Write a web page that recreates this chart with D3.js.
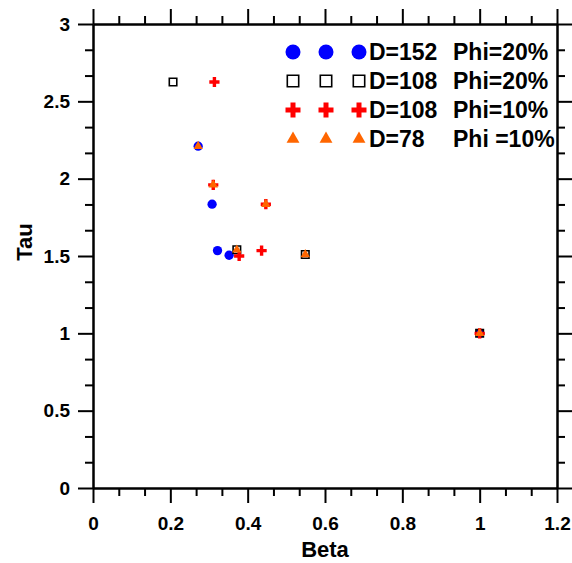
<!DOCTYPE html>
<html>
<head>
<meta charset="utf-8">
<script src="https://cdn.jsdelivr.net/npm/d3@7"></script>
<style>
  body { margin: 0; background: #fff; }
  svg { display: block; }
  text { font-family: "Liberation Sans", Arial, sans-serif; font-weight: bold; }
</style>
</head>
<body>
<svg id="chart"></svg>
<script>
// data: [beta, tau]
const d152phi20 = [[0.272, 2.21], [0.308, 1.835], [0.322, 1.535], [0.352, 1.505], [1.0, 1.0]];
const d108phi20 = [[0.207, 2.625], [0.372, 1.54], [0.549, 1.51], [1.0, 1.0]];
const d108phi10 = [[0.314, 2.625], [0.311, 1.96], [0.447, 1.835], [0.378, 1.50], [0.436, 1.535], [1.0, 1.0]];
const d78phi10 = [[0.272, 2.21], [0.311, 1.96], [0.447, 1.835], [0.372, 1.54], [0.549, 1.51], [1.0, 1.0]];

const seriesNames = ['D=152', 'D=108', 'D=108', 'D=78'];
const phiNames = ['Phi=20%', 'Phi=20%', 'Phi=10%', 'Phi =10%'];
const xTicks = [0, 0.2, 0.4, 0.6, 0.8, 1, 1.2];
const yTicks = [0, 0.5, 1, 1.5, 2, 2.5, 3];

const width = 572, height = 563;
const margin = {top: 24, right: 15, bottom: 75, left: 93};

const svg = d3.select('#chart')
  .attr('width', width)
  .attr('height', height);

const xScale = d3.scaleLinear().domain([0, 1.2]).range([margin.left, width - margin.right]);
const yScale = d3.scaleLinear().domain([0, 3]).range([height - margin.bottom, margin.top]);

const xMinor = d3.range(0, 1.2001, 0.2 / 3).filter(v => Math.abs(v / 0.2 - Math.round(v / 0.2)) > 1e-6);
const yMinor = d3.range(0, 3.0001, 0.5 / 3).filter(v => Math.abs(v / 0.5 - Math.round(v / 0.5)) > 1e-6);

const fmt = d => d3.format('~g')(d);

function styleAxis(g) {
  g.selectAll('path, line').attr('stroke', '#000').attr('stroke-width', 2);
  g.selectAll('text').style('font-size', '19px').attr('fill', '#000');
}

// bottom
svg.append('g')
  .attr('transform', `translate(0,${yScale(0)})`)
  .call(d3.axisBottom(xScale).tickValues(xTicks).tickFormat(fmt).tickSize(15).tickSizeOuter(0).tickPadding(14))
  .call(styleAxis);
svg.append('g')
  .attr('transform', `translate(0,${yScale(0)})`)
  .call(d3.axisBottom(xScale).tickValues(xMinor).tickFormat('').tickSize(8).tickSizeOuter(0))
  .call(styleAxis);

// top
svg.append('g')
  .attr('transform', `translate(0,${yScale(3)})`)
  .call(d3.axisTop(xScale).tickValues(xTicks).tickFormat('').tickSize(15).tickSizeOuter(0))
  .call(styleAxis);
svg.append('g')
  .attr('transform', `translate(0,${yScale(3)})`)
  .call(d3.axisTop(xScale).tickValues(xMinor).tickFormat('').tickSize(8).tickSizeOuter(0))
  .call(styleAxis);

// left
svg.append('g')
  .attr('transform', `translate(${xScale(0)},0)`)
  .call(d3.axisLeft(yScale).tickValues(yTicks).tickFormat(fmt).tickSize(15).tickSizeOuter(0).tickPadding(8))
  .call(styleAxis);
svg.append('g')
  .attr('transform', `translate(${xScale(0)},0)`)
  .call(d3.axisLeft(yScale).tickValues(yMinor).tickFormat('').tickSize(8).tickSizeOuter(0))
  .call(styleAxis);

// right
svg.append('g')
  .attr('transform', `translate(${xScale(1.2)},0)`)
  .call(d3.axisRight(yScale).tickValues(yTicks).tickFormat('').tickSize(15).tickSizeOuter(0))
  .call(styleAxis);
svg.append('g')
  .attr('transform', `translate(${xScale(1.2)},0)`)
  .call(d3.axisRight(yScale).tickValues(yMinor).tickFormat('').tickSize(8).tickSizeOuter(0))
  .call(styleAxis);

// axis titles
svg.append('text')
  .attr('x', (xScale(0) + xScale(1.2)) / 2)
  .attr('y', 557)
  .attr('text-anchor', 'middle')
  .style('font-size', '22px')
  .text('Beta');

svg.append('text')
  .attr('transform', `translate(32,${yScale(1.5) - 14}) rotate(-90)`)
  .attr('text-anchor', 'middle')
  .style('font-size', '22px')
  .text('Tau');

// series styles
const series = [
  {data: d152phi20, type: d3.symbolCircle, size: 68, legSize: 177, fill: '#0000ff', stroke: 'none', sw: 0},
  {data: d108phi20, type: d3.symbolSquare, size: 56, legSize: 130, fill: 'none', stroke: '#000', sw: 1.6},
  {data: d108phi10, type: d3.symbolCross, size: 58, legSize: 125, fill: '#ff0000', stroke: 'none', sw: 0},
  {data: d78phi10, type: d3.symbolTriangle, size: 38, legSize: 72, fill: '#ff6600', stroke: 'none', sw: 0}
];

series.forEach(s => {
  svg.append('g').selectAll('path')
    .data(s.data)
    .enter()
    .append('path')
    .attr('transform', d => `translate(${xScale(d[0])},${yScale(d[1])})`)
    .attr('d', d3.symbol().type(s.type).size(s.size))
    .attr('fill', s.fill)
    .attr('stroke', s.stroke)
    .attr('stroke-width', s.sw);
});

// legend
const legX = [293, 326, 359];
const legY = [52, 81, 110, 139];
series.forEach((s, i) => {
  const g = svg.append('g');
  legX.forEach(x => {
    g.append('path')
      .attr('transform', `translate(${x},${legY[i]})`)
      .attr('d', d3.symbol().type(s.type).size(s.legSize))
      .attr('fill', s.fill)
      .attr('stroke', s.stroke)
      .attr('stroke-width', s.sw);
  });
  g.append('text')
    .attr('x', 369)
    .attr('y', legY[i] + 8)
    .style('font-size', '23px')
    .text(seriesNames[i]);
  g.append('text')
    .attr('x', 453)
    .attr('y', legY[i] + 8)
    .style('font-size', '23px')
    .text(phiNames[i]);
});
</script>
</body>
</html>
